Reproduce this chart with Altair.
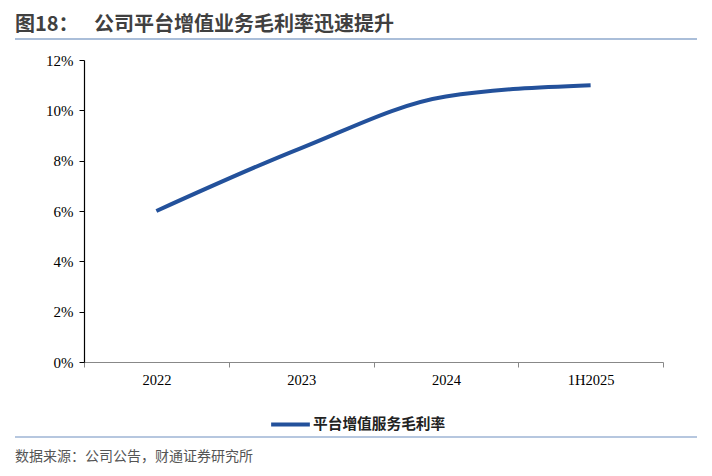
import altair as alt
import pandas as pd

categories = ["2022", "2023", "2024", "1H2025"]
margin = [0.060, 0.085, 0.1055, 0.110]
series_name = "平台增值服务毛利率"

title_prefix = "图18："
title_text = "公司平台增值业务毛利率迅速提升"
source_text = "数据来源：公司公告，财通证券研究所"

LINE = "#23519b"
CJK = "Noto Sans CJK SC"
SERIF = "Liberation Serif"

df = pd.DataFrame({"cat": categories, "val": margin, "s": [series_name] * len(categories)})

line = alt.Chart(df).mark_line(interpolate="monotone", strokeWidth=4, strokeCap="butt").encode(
    x=alt.X("cat:N", sort=categories, title=None,
            scale=alt.Scale(paddingInner=0, paddingOuter=0),
            axis=alt.Axis(tickBand="extent", labelAngle=0, labelFont=SERIF, labelFontSize=14.5,
                          labelColor="#000", domainColor="#888", tickColor="#888",
                          tickSize=5, labelPadding=6, domainWidth=1.2)),
    y=alt.Y("val:Q", title=None,
            scale=alt.Scale(domain=[0, 0.12]),
            axis=alt.Axis(format=".0%", values=[0, 0.02, 0.04, 0.06, 0.08, 0.10, 0.12],
                          labelFont=SERIF, labelFontSize=15, labelColor="#000",
                          domainColor="#000", tickColor="#000", tickSize=5,
                          labelPadding=6, grid=False, domainWidth=1.2)),
    color=alt.Color("s:N", scale=alt.Scale(domain=[series_name], range=[LINE]),
                    legend=alt.Legend(title=None, orient="none", legendX=185, legendY=343,
                                      symbolType="stroke", symbolSize=1500, symbolStrokeWidth=4,
                                      labelFont=CJK, labelFontSize=14.7, labelFontWeight="bold",
                                      labelColor="#222", labelOffset=1)),
)

one = pd.DataFrame({"a": [0]})

t1 = alt.Chart(one).mark_text(align="left", baseline="middle", font=CJK, fontSize=20,
                              fontWeight="bold", color="#404040").encode(
    x=alt.value(-69), y=alt.value(-35.5), text=alt.value(title_prefix))
t2 = alt.Chart(one).mark_text(align="left", baseline="middle", font=CJK, fontSize=20,
                              fontWeight="bold", color="#404040").encode(
    x=alt.value(10), y=alt.value(-35.5), text=alt.value(title_text))
r1 = alt.Chart(one).mark_rule(color="#8ea8cc", strokeWidth=1.5).encode(
    x=alt.value(-69), x2=alt.value(613), y=alt.value(-21))
r2 = alt.Chart(one).mark_rule(color="#6f8fc0", strokeWidth=1.2).encode(
    x=alt.value(-69), x2=alt.value(613), y=alt.value(377))
t3 = alt.Chart(one).mark_text(align="left", baseline="middle", font=CJK, fontSize=14,
                              color="#555").encode(
    x=alt.value(-69), y=alt.value(397), text=alt.value(source_text))

chart = alt.layer(line, t1, t2, r1, r2, t3).properties(
    width=579, height=302,
    autosize=alt.AutoSizeParams(type="none"),
    padding={"left": 76, "top": 52, "right": 41, "bottom": 106},
    background="white",
).configure_view(stroke=None).configure_axis(ticks=True)

chart.save("out.html", embed_options={"renderer": "svg", "actions": False})
